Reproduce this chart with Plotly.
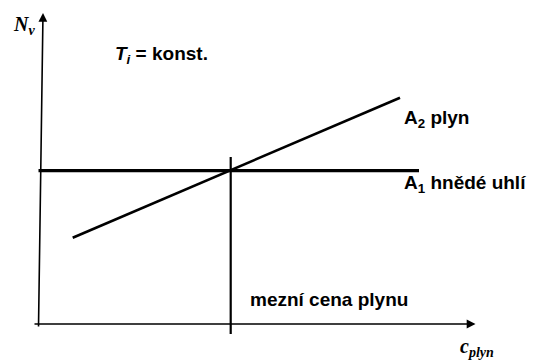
import plotly.graph_objects as go

# schematic units: origin where the two axes cross
coal_x = [0.0, 38.05]          # A1 hnědé uhlí (constant)
coal_y = [15.33, 15.33]
gas_x = [3.42, 36.15]          # A2 plyn (rises with gas price)
gas_y = [8.63, 22.63]
limit_x = [19.22, 19.22]       # mezní cena plynu
limit_y = [-1.0, 16.7]

x_axis_from = (-0.55, 0.0)
x_axis_to = (43.7, 0.0)
y_axis_from = (0.0, -0.4)
y_axis_to = (0.45, 31.1)

fig = go.Figure()

line_style = dict(color="black")
fig.add_trace(go.Scatter(x=coal_x, y=coal_y, mode="lines",
                         line=dict(line_style, width=3.2)))
fig.add_trace(go.Scatter(x=gas_x, y=gas_y, mode="lines",
                         line=dict(line_style, width=2.6)))
fig.add_trace(go.Scatter(x=limit_x, y=limit_y, mode="lines",
                         line=dict(line_style, width=2.2)))

# hand-drawn axes with arrow heads
for tail, head in [(x_axis_from, x_axis_to), (y_axis_from, y_axis_to)]:
    fig.add_annotation(x=head[0], y=head[1], ax=tail[0], ay=tail[1],
                       xref="x", yref="y", axref="x", ayref="y",
                       text="", showarrow=True, arrowhead=2,
                       arrowsize=1.1, arrowwidth=1.6, arrowcolor="black")

sans = dict(family="Liberation Sans, Arial, sans-serif", size=19, color="black")
serif = dict(family="Liberation Serif, Times New Roman, serif", size=20, color="black")

labels = [
    (-2.8, 29.9, "<b><i>N<sub>v</sub></i></b>", serif),
    (7.4, 26.9, "<b><i>T<sub>i</sub></i> = konst.</b>", sans),
    (36.35, 20.5, "<b>A<sub>2</sub> plyn</b>", sans),
    (36.35, 14.0, "<b>A<sub>1</sub> hnědé uhlí</b>", sans),
    (20.9, 2.5, "<b>mezní cena plynu</b>", sans),
    (41.9, -2.3, "<b><i>c<sub>plyn</sub></i></b>", serif),
]
for x, y, txt, font in labels:
    fig.add_annotation(x=x, y=y, xref="x", yref="y", text=txt,
                       showarrow=False, xanchor="left", yanchor="middle",
                       font=font)

fig.update_xaxes(visible=False, range=[-3.85, 49.55])
fig.update_yaxes(visible=False, range=[-3.9, 32.4])
fig.update_layout(
    width=534, height=363,
    margin=dict(l=0, r=0, t=0, b=0),
    plot_bgcolor="white", paper_bgcolor="white",
    showlegend=False,
)

fig.write_html("out.html", config={"displayModeBar": False},
               post_script="document.body.style.margin = '0';")
